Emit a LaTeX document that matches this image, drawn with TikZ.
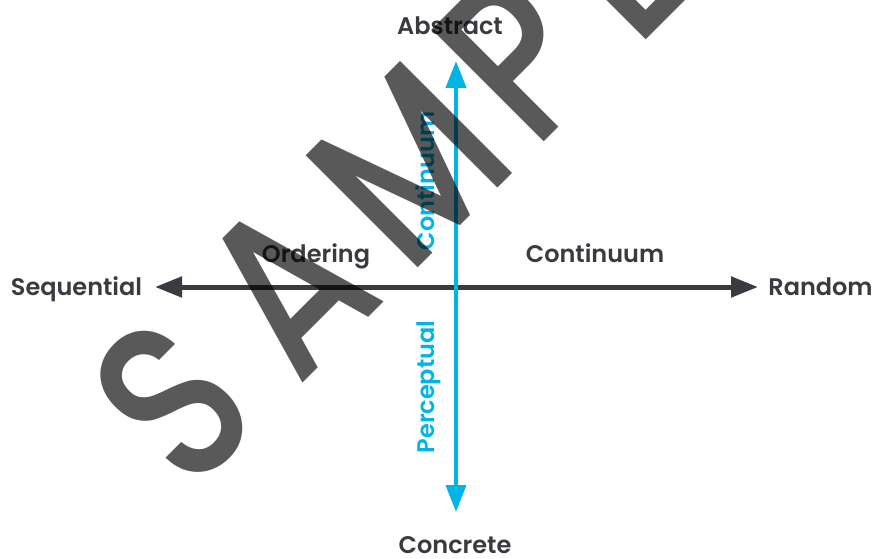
\documentclass[tikz,border=0pt]{standalone}
\usepackage{fontspec}
\setmainfont{Lato}
\newfontfamily\labelfont{Poppins SemiBold}
\newfontfamily\stampfont{Poppins Medium}
\usetikzlibrary{arrows.meta}
\definecolor{axisdark}{HTML}{3A3B40}
\definecolor{axisblue}{HTML}{00B4E4}
\newcommand\stampletter[1]{\scalebox{0.8}[1]{#1}}
\begin{document}
\begin{tikzpicture}[x=1pt,y=-1pt,
  lbl/.style={font=\labelfont\fontsize{24}{28}\selectfont, text=axisdark, inner sep=0pt, anchor=base},
  bluelbl/.style={lbl, text=axisblue, rotate=90},
  darkaxis/.style={draw=axisdark, line width=5pt, {Triangle[length=27pt,width=20pt]}-{Triangle[length=27pt,width=20pt]}},
  blueaxis/.style={draw=axisblue, line width=4pt, {Triangle[length=27pt,width=20pt]}-{Triangle[length=27pt,width=20pt]}},
  stamp/.style={font=\stampfont\fontsize{228}{228}\selectfont, text=black, text opacity=0.65, rotate=45, anchor=base west, inner sep=0pt}
]
\useasboundingbox (0,0) rectangle (873,559);

% end labels
\node[lbl] (abstract) at (450,35) {Abstract};
\node[lbl] (concrete) at (455,553) {Concrete};
\node[lbl] (sequential) at (76.5,295) {Sequential};
\node[lbl] (random) at (820.5,295) {Random};

% axis ends
\coordinate (left) at (155,287);
\coordinate (right) at (758,287);
\coordinate (top) at (456,61);
\coordinate (bottom) at (456,512);

% axes
\draw[darkaxis] (left) -- (right);
\draw[blueaxis] (top) -- (bottom);

% axis captions
\node[lbl] (ordering) at (316,262) {Ordering};
\node[lbl] (hcont) at (595,262) {Continuum};
\node[bluelbl] (vcont) at (434,181) {Continuum};
\node[bluelbl] (percep) at (434,387) {Perceptual};

% watermark, one letter at a time along a 45 degree baseline
\begin{scope}
\clip (0,0) rectangle (873,559);
\node[stamp] (wmS) at (189,497) {\stampletter{S}};
\node[stamp] (wmA) at (298,388) {\stampletter{A}};
\node[stamp] (wmM) at (408,278) {\stampletter{M}};
\node[stamp] (wmP) at (534,152) {\stampletter{P}};
\node[stamp] (wmL) at (636,50) {\stampletter{L}};
\node[stamp] (wmE) at (723,-37) {\stampletter{E}};
\end{scope}
\end{tikzpicture}
\end{document}
